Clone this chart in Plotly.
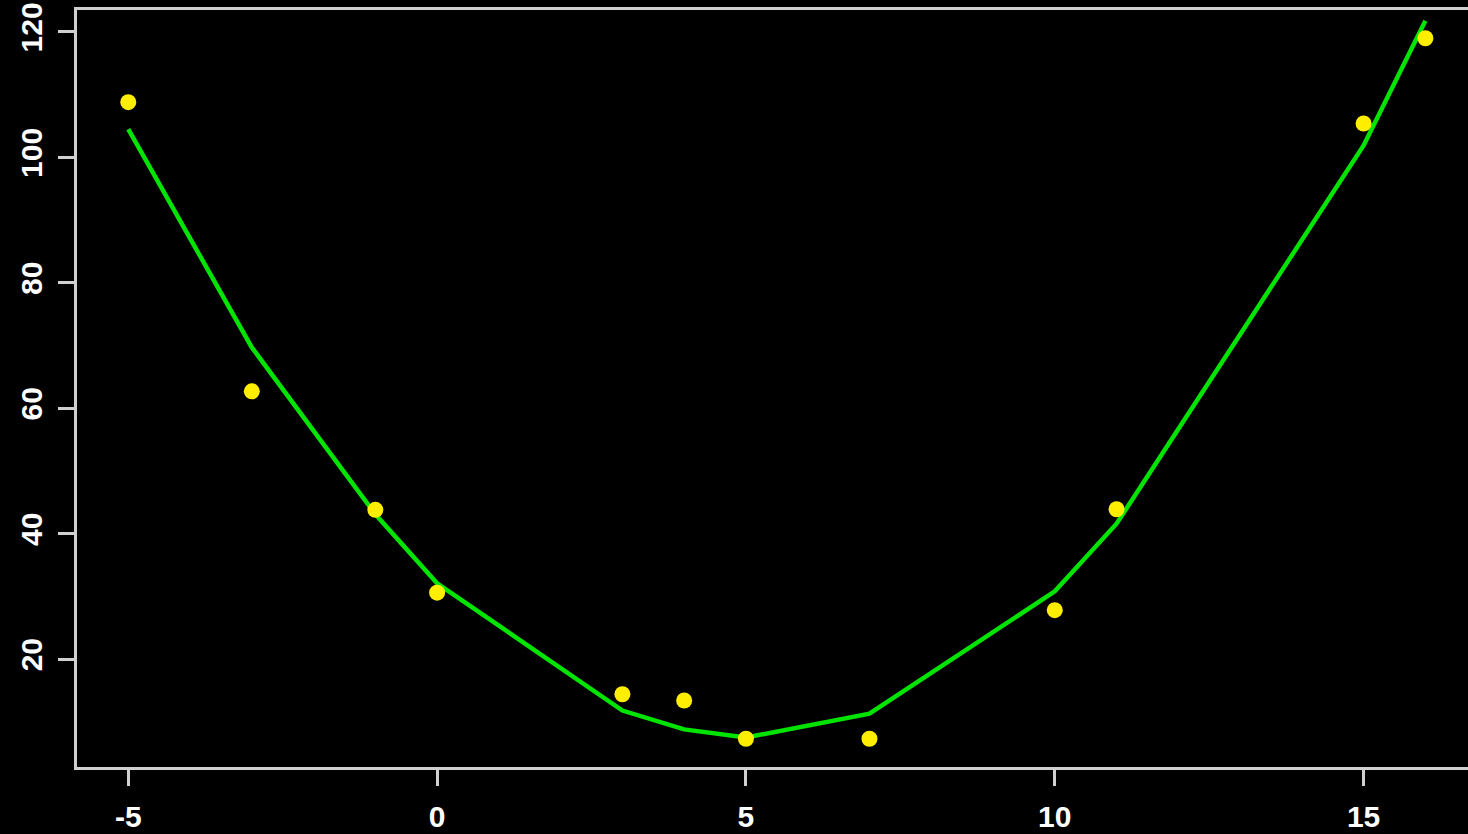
import plotly.graph_objects as go

# observed data
x_obs = [-5, -3, -1, 0, 3, 4, 5, 7, 10, 11, 15, 16]
y_obs = [108.8, 62.7, 43.8, 30.6, 14.4, 13.4, 7.3, 7.3, 27.8, 43.9, 105.4, 119.0]

# fitted values at the same x positions
y_fit = [104.5, 69.7, 43.1, 32.1, 11.8, 8.8, 7.5, 11.3, 30.8, 41.6, 101.9, 121.8]

x_ticks = [-5, 0, 5, 10, 15]
y_ticks = [20, 40, 60, 80, 100, 120]

axis_color = "#d0d0d0"
tick_font = dict(family="Liberation Sans, Arial, sans-serif", size=30,
                 color="white", weight="bold")

fig = go.Figure()
fig.add_trace(go.Scatter(
    x=x_obs, y=y_fit, mode="lines",
    line=dict(color="#00E400", width=4.5),
    hoverinfo="skip", showlegend=False,
))
fig.add_trace(go.Scatter(
    x=x_obs, y=y_obs, mode="markers",
    marker=dict(color="#FFEE00", size=16, line=dict(width=0)),
    showlegend=False,
))

fig.update_layout(
    width=1468, height=834,
    paper_bgcolor="black", plot_bgcolor="black",
    margin=dict(l=77, r=0, t=10, b=67),
)
fig.update_xaxes(
    range=[-5.83, 16.69], tickvals=x_ticks, ticktext=[str(v) for v in x_ticks],
    showgrid=False, zeroline=False,
    showline=True, mirror=True, linecolor=axis_color, linewidth=2.5,
    ticks="outside", ticklen=16, tickwidth=2.5, tickcolor=axis_color,
    tickfont=tick_font, ticklabelstandoff=5,
)
fig.update_yaxes(
    range=[2.8, 123.5], tickvals=y_ticks, ticktext=[str(v) for v in y_ticks],
    showgrid=False, zeroline=False,
    showline=True, mirror=False, linecolor=axis_color, linewidth=2.5,
    ticks="outside", ticklen=16, tickwidth=2.5, tickcolor=axis_color,
    tickfont=tick_font, tickangle=-90, ticklabelstandoff=4,
)

fig.write_html("out.html")
